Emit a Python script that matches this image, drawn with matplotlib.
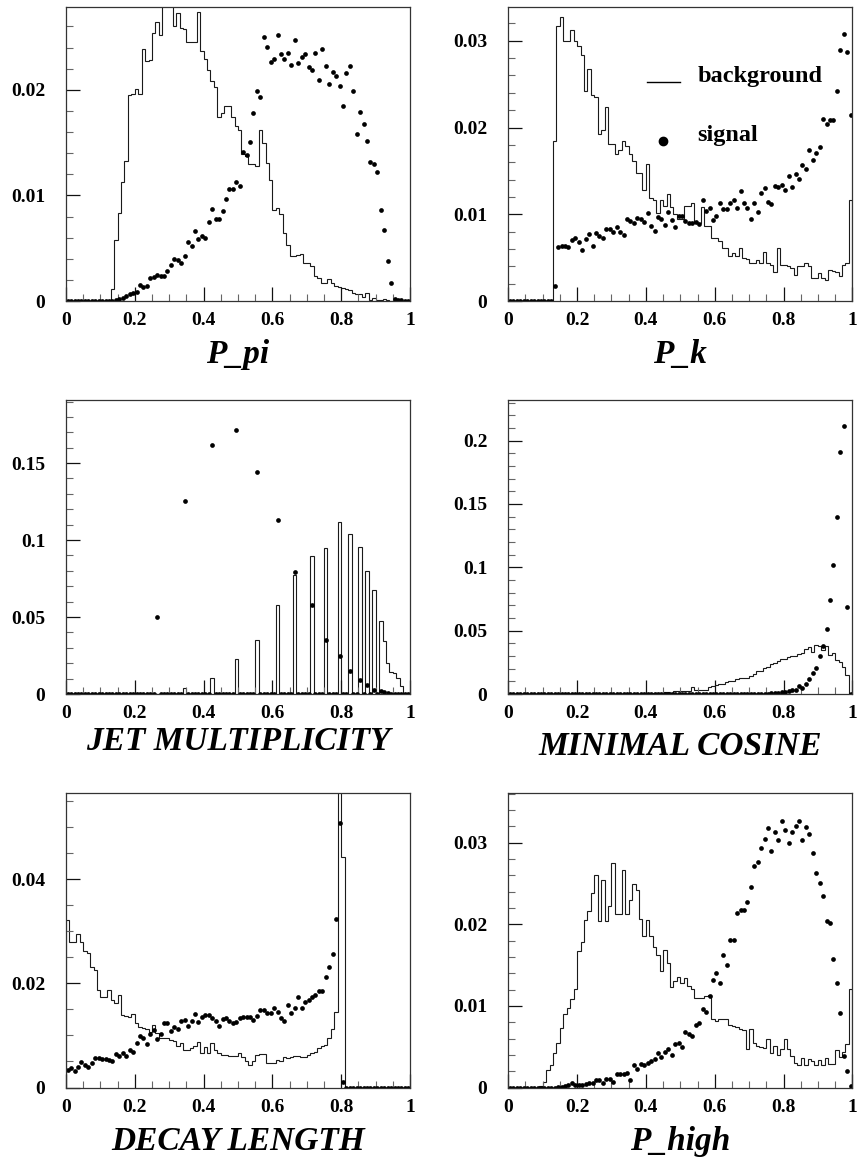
import numpy as np
import matplotlib
matplotlib.use('Agg')
import matplotlib.pyplot as plt
from matplotlib.ticker import MultipleLocator, FuncFormatter

plt.rcParams['font.family'] = ['Liberation Serif', 'DejaVu Serif']

# 100 bins on [0, 1]
edges = np.linspace(0, 1, 101)
centers = 0.5 * (edges[:-1] + edges[1:])
SCALE = 1e-3  # all values below are given in units of 1e-3

# ---------------- P_pi ----------------
ppi_bkg = [0] * 13 + [
    1.1, 5.8, 8.3, 11.3, 13.3, 19.5, 19.6, 20.1, 19.6, 23.9,
    22.7, 22.8, 25.4, 26.4, 25.2, 29.0, 28.5, 29.0, 26.0, 27.3,
    25.9, 25.8, 24.5, 24.5, 24.5, 27.4, 23.7, 22.9, 21.9, 20.8,
    20.3, 17.4, 17.8, 18.5, 18.5, 17.4, 16.6, 16.2, 13.9, 13.7,
    13.0, 13.0, 12.8, 16.2, 15.0, 13.1, 11.5, 8.6, 8.8, 8.2,
    6.4, 5.3, 4.3, 4.3, 4.4, 4.5, 3.6, 3.6, 3.3, 2.4,
    2.2, 1.7, 1.7, 2.1, 1.7, 1.4, 1.3, 1.2, 1.1, 1.0,
    0.8, 0.7, 0.7, 0.4, 0.8, 0.1, 0.3, 0.1, 0.1, 0.2,
    0.1] + [0] * 6
ppi_sig = [0] * 14 + [
    0.1, 0.2, 0.3, 0.5, 0.7, 0.8, 0.9, 1.5, 1.3, 1.4,
    2.2, 2.3, 2.5, 2.4, 2.4, 2.8, 3.4, 4.0, 3.9, 3.6,
    4.3, 5.6, 5.2, 6.6, 5.9, 6.2, 6.0, 7.5, 8.7, 7.8,
    7.8, 8.5, 9.7, 10.6, 10.6, 11.3, 10.9, 14.1, 13.8, 15.1,
    17.8, 19.9, 19.3, 25.0, 24.1, 22.6, 22.9, 25.2, 23.4, 22.9,
    23.5, 22.4, 24.7, 22.5, 23.1, 23.4, 22.2, 21.9, 23.5, 20.9,
    23.9, 22.3, 20.6, 21.7, 21.3, 20.4, 18.5, 21.6, 22.3, 19.9,
    15.8, 17.9, 16.8, 15.2, 13.2, 13.0, 12.2, 8.6, 6.7, 3.8,
    1.7, 0.2, 0.1, 0.1, 0, 0]

# ---------------- P_k ----------------
pk_bkg = [0] * 13 + [
    18.4, 31.7, 32.7, 30.0, 30.0, 31.3, 30.0, 29.4, 28.4, 24.2,
    26.7, 23.8, 23.5, 19.2, 19.7, 22.4, 18.1, 18.1, 17.0, 17.4,
    18.4, 17.9, 16.9, 16.1, 14.8, 14.8, 12.8, 15.8, 11.9, 11.7,
    10.2, 11.6, 11.0, 12.3, 10.8, 10.0, 9.4, 9.5, 11.0, 11.0,
    11.3, 9.0, 9.0, 10.8, 8.6, 8.6, 7.3, 7.3, 6.9, 6.1,
    6.1, 5.2, 5.5, 5.2, 6.1, 5.0, 4.8, 4.4, 4.4, 4.7,
    4.4, 5.7, 4.4, 4.2, 3.4, 6.1, 4.2, 4.2, 4.0, 3.8,
    3.0, 4.0, 4.0, 4.4, 4.0, 2.7, 2.7, 3.2, 2.7, 2.4,
    3.6, 3.5, 3.4, 2.9, 4.2, 4.4, 11.6]
pk_sig = [0] * 13 + [
    1.7, 6.2, 6.4, 6.4, 6.2, 7.0, 7.3, 6.8, 5.9, 7.1,
    7.7, 6.4, 7.8, 7.5, 7.3, 8.3, 8.3, 8.0, 8.5, 8.0,
    7.6, 9.5, 9.2, 9.0, 9.6, 9.5, 9.1, 10.2, 8.6, 8.1,
    9.7, 9.4, 8.8, 10.3, 9.3, 8.5, 9.8, 9.8, 9.2, 9.0,
    9.0, 9.1, 8.9, 11.6, 10.4, 10.7, 9.3, 9.8, 11.3, 10.6,
    10.6, 11.3, 11.7, 10.7, 12.7, 11.3, 10.7, 9.5, 11.3, 10.3,
    12.5, 13.0, 11.4, 11.2, 13.3, 13.2, 13.4, 12.8, 14.4, 13.2,
    14.7, 14.1, 15.7, 15.2, 17.4, 16.3, 17.1, 17.8, 21.0, 20.4,
    20.9, 20.9, 24.2, 28.9, 30.8, 28.7, 21.5]

# ---------------- JET MULTIPLICITY (discrete, only some bins filled) ----------------
jet_bkg_bins = [34, 42, 49, 55, 61, 66, 71, 75, 79, 82, 85, 87, 89, 91, 92, 93, 94, 95, 96, 97]
jet_bkg_vals = [3.9, 10.4, 22.7, 35.3, 57.8, 77.5, 89.8, 94.8, 111.5, 103.9,
                95.5, 79.7, 67.7, 47.2, 34.2, 20.0, 14.1, 13.6, 10.4, 5.4]
jet_sig_bins = [26, 34, 42, 49, 55, 61, 66, 71, 75, 79, 82, 85, 87, 89, 91, 92, 93]
jet_sig_vals = [50.0, 125.5, 161.5, 171.6, 143.9, 112.8, 79.4, 57.8, 34.8, 24.5,
                15.2, 8.9, 6.1, 2.8, 1.7, 1.1, 0.5]

# ---------------- MINIMAL COSINE ----------------
mc_bkg = [0] * 39 + [
    0.3, 0.3, 0.5, 0.8, 0.8, 1.0, 1.5, 1.5, 1.0, 2.0,
    2.0, 2.3, 2.3, 2.5, 5.5, 2.8, 3.2, 3.5, 3.5, 5.8,
    6.0, 7.5, 7.8, 8.0, 9.5, 10.0, 10.5, 11.5, 12.5, 12.7,
    13.0, 14.5, 15.5, 18.0, 18.5, 20.5, 21.0, 23.5, 24.5, 26.0,
    27.5, 27.5, 29.5, 30.0, 30.0, 31.5, 32.5, 35.5, 37.0, 33.5,
    38.5, 38.0, 34.5, 37.5, 30.5, 32.5, 27.0, 25.5, 21.5, 14.7,
    0]
mc_sig = [0] * 75 + [
    0.3, 0.5, 0.8, 1.0, 1.5, 1.8, 2.5, 3.0, 3.5, 6.0,
    4.8, 8.0, 12.0, 16.8, 20.5, 30.0, 38.0, 51.5, 74.0, 101.5,
    139.5, 191.0, 211.4, 68.3, 0]

# ---------------- DECAY LENGTH ----------------
dl_bkg = [
    32.1, 28.0, 28.0, 29.5, 28.0, 26.3, 25.8, 23.2, 22.6, 18.7,
    17.4, 17.4, 18.7, 16.8, 16.2, 17.7, 13.9, 13.7, 13.5, 14.1,
    12.3, 11.7, 11.4, 11.2, 10.7, 12.0, 10.5, 9.5, 9.5, 9.5,
    9.1, 9.0, 8.0, 8.5, 7.3, 7.3, 7.5, 8.0, 8.8, 6.6,
    7.7, 6.6, 8.5, 7.2, 6.7, 6.3, 6.3, 6.1, 6.1, 6.1,
    6.6, 5.8, 5.0, 4.3, 5.0, 6.3, 6.5, 6.5, 4.8, 4.7,
    4.8, 5.3, 5.0, 5.9, 5.6, 5.9, 6.1, 6.1, 5.9, 5.9,
    6.3, 6.7, 6.9, 7.5, 8.0, 8.2, 9.5, 11.2, 14.6, 62.0,
    44.3] + [0] * 19
dl_sig = [
    3.4, 3.7, 3.2, 4.0, 4.9, 4.3, 4.0, 4.7, 5.6, 5.6,
    5.5, 5.4, 5.2, 5.0, 6.5, 6.1, 6.6, 6.1, 7.2, 6.9,
    8.5, 9.8, 9.6, 8.4, 10.3, 11.1, 9.3, 10.3, 12.3, 12.3,
    10.9, 11.7, 11.2, 12.8, 13.0, 11.8, 12.7, 14.2, 12.5, 13.6,
    13.9, 13.9, 13.3, 12.7, 11.9, 13.1, 13.3, 12.8, 12.3, 12.6,
    13.3, 13.5, 13.5, 13.6, 13.0, 13.7, 14.9, 14.8, 14.4, 14.4,
    15.2, 14.6, 13.4, 12.7, 15.8, 14.4, 15.3, 17.3, 15.2, 16.5,
    16.9, 17.3, 17.8, 18.6, 18.6, 21.2, 23.1, 25.6, 32.3, 50.8,
    1.0] + [0] * 19

# ---------------- P_high ----------------
ph_bkg = [0] * 9 + [
    0.2, 0.7, 2.1, 2.7, 4.2, 5.4, 7.3, 9.0, 9.8, 10.9,
    12.1, 16.7, 17.8, 20.5, 21.6, 23.9, 26.0, 20.4, 25.4, 20.4,
    22.3, 27.5, 21.3, 21.3, 26.7, 21.3, 23.0, 24.9, 24.2, 20.6,
    18.6, 20.5, 18.6, 17.2, 16.2, 14.3, 16.9, 15.3, 12.3, 13.0,
    13.5, 12.8, 13.4, 12.5, 12.1, 11.0, 11.0, 11.0, 11.2, 11.4,
    8.4, 8.1, 8.4, 8.4, 8.4, 7.7, 7.6, 7.4, 7.2, 7.1,
    4.7, 7.2, 5.5, 5.1, 5.0, 4.9, 5.9, 4.2, 5.1, 4.0,
    4.7, 5.9, 4.7, 3.9, 3.0, 2.8, 3.6, 2.8, 3.5, 3.3,
    2.8, 3.4, 2.8, 3.6, 2.9, 2.9, 4.6, 3.7, 4.4, 5.3,
    12.1]
ph_sig = [0] * 14 + [
    0.1, 0.1, 0.2, 0.3, 0.5, 0.3, 0.3, 0.3, 0.4, 0.5,
    0.6, 0.9, 0.9, 0.5, 1.0, 1.1, 0.7, 1.6, 1.6, 1.7,
    1.8, 0.9, 2.8, 2.3, 2.9, 2.8, 3.0, 3.2, 3.5, 4.2,
    3.7, 4.4, 4.7, 4.0, 5.3, 5.5, 5.0, 6.8, 6.5, 6.3,
    7.7, 7.9, 9.6, 9.3, 11.2, 13.2, 14.0, 12.8, 16.2, 15.0,
    18.1, 18.1, 21.4, 21.7, 21.8, 22.8, 24.6, 27.1, 27.6, 29.3,
    30.5, 31.8, 29.0, 31.3, 30.3, 32.7, 31.6, 30.0, 31.3, 32.0,
    32.7, 30.3, 31.9, 31.1, 28.7, 26.3, 25.1, 23.5, 20.4, 20.2,
    15.8, 12.8, 9.1, 3.9, 2.0, 0.2]

jet_bkg = np.zeros(100)
jet_bkg[jet_bkg_bins] = jet_bkg_vals
jet_sig = np.zeros(100)
jet_sig[jet_sig_bins] = jet_sig_vals


def fmt(v, pos):
    return '%g' % round(v, 4)


def draw_panel(ax, bkg, sig, ymax, major, minor, label, label_y=-0.212):
    bkg = np.asarray(bkg, dtype=float) * SCALE
    sig = np.asarray(sig, dtype=float) * SCALE
    ax.stairs(bkg, edges, baseline=0, color='#1a1a1a', lw=0.8)
    ax.plot(centers, sig, 'o', ms=3.4, color='black', mec='black', mew=0)
    ax.set_xlim(0, 1)
    ax.set_ylim(0, ymax)

    ax.xaxis.set_major_locator(MultipleLocator(0.2))
    ax.xaxis.set_minor_locator(MultipleLocator(0.05))
    ax.yaxis.set_major_locator(MultipleLocator(major))
    ax.yaxis.set_minor_locator(MultipleLocator(minor))
    ax.xaxis.set_major_formatter(FuncFormatter(fmt))
    ax.yaxis.set_major_formatter(FuncFormatter(fmt))

    ax.tick_params(which='both', direction='in', top=False, right=False)
    ax.tick_params(which='major', length=10, width=0.9, color='#111111',
                   labelsize=14)
    ax.tick_params(which='minor', length=5, width=0.8, color='#666666')
    ax.tick_params(axis='x', which='major', pad=8)
    ax.tick_params(axis='y', which='major', pad=15)
    for lab in ax.get_xticklabels() + ax.get_yticklabels():
        lab.set_fontweight('bold')
    for sp in ax.spines.values():
        sp.set_linewidth(0.9)
        sp.set_color('#333333')

    ax.text(0.5, label_y, label, transform=ax.transAxes, ha='center',
            va='baseline', fontsize=24, fontweight='bold', fontstyle='italic')


fig = plt.figure(figsize=(8.58, 11.6), dpi=100)

W, H = 0.401, 0.2535
col_x = [0.0769, 0.5924]
row_y = [0.7405, 0.4017, 0.0625]

ax1 = fig.add_axes([col_x[0], row_y[0], W, H])
ax2 = fig.add_axes([col_x[1], row_y[0], W, H])
ax3 = fig.add_axes([col_x[0], row_y[1], W, H])
ax4 = fig.add_axes([col_x[1], row_y[1], W, H])
ax5 = fig.add_axes([col_x[0], row_y[2], W, H])
ax6 = fig.add_axes([col_x[1], row_y[2], W, H])

draw_panel(ax1, ppi_bkg, ppi_sig, 0.02785, 0.01, 0.002, 'P_pi')
draw_panel(ax2, pk_bkg, pk_sig, 0.0339, 0.01, 0.002, 'P_k')
draw_panel(ax3, jet_bkg, jet_sig, 0.191, 0.05, 0.01,
           'JET MULTIPLICITY', label_y=-0.19)
draw_panel(ax4, mc_bkg, mc_sig, 0.232, 0.05, 0.01, 'MINIMAL COSINE', label_y=-0.207)
draw_panel(ax5, dl_bkg, dl_sig, 0.0565, 0.02, 0.005, 'DECAY LENGTH')
draw_panel(ax6, ph_bkg, ph_sig, 0.03605, 0.01, 0.002, 'P_high')

# legend drawn by hand inside the P_k panel
ax2.plot([0.404, 0.50], [0.0252, 0.0252], color='black', lw=1.0)
ax2.plot([0.45], [0.0185], 'o', ms=6, color='black')
ax2.text(0.549, 0.0252, 'background', fontsize=17.5, fontweight='bold',
         va='baseline', ha='left')
ax2.text(0.549, 0.0185, 'signal', fontsize=17.5, fontweight='bold',
         va='baseline', ha='left')

fig.savefig('out.png', dpi=100)
